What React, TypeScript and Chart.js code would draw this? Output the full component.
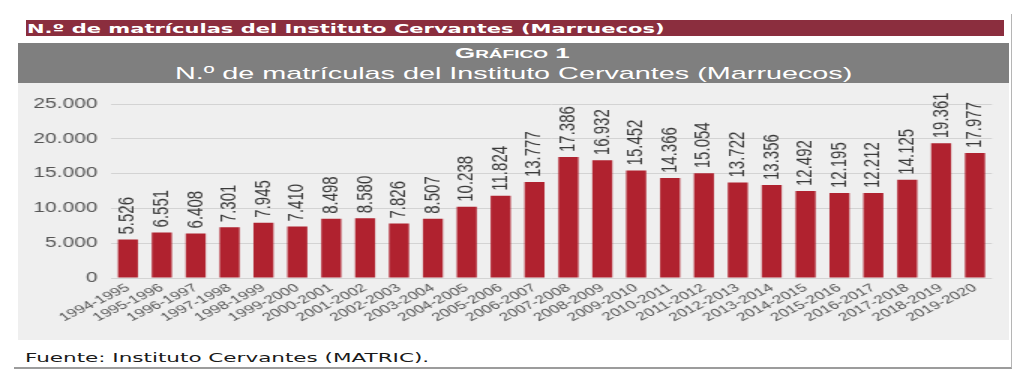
import React, { useEffect, useLayoutEffect, useRef } from 'react';
import { Chart, registerables } from 'chart.js';

Chart.register(...registerables);

// ---- data ----
const categories = [
  '1994-1995', '1995-1996', '1996-1997', '1997-1998', '1998-1999', '1999-2000',
  '2000-2001', '2001-2002', '2002-2003', '2003-2004', '2004-2005', '2005-2006',
  '2006-2007', '2007-2008', '2008-2009', '2009-2010', '2010-2011', '2011-2012',
  '2012-2013', '2013-2014', '2014-2015', '2015-2016', '2016-2017', '2017-2018',
  '2018-2019', '2019-2020',
];
const enrolments = [
  5526, 6551, 6408, 7301, 7945, 7410, 8498, 8580, 7826, 8507, 10238, 11824,
  13777, 17386, 16932, 15452, 14366, 15054, 13722, 13356, 12492, 12195, 12212,
  14125, 19361, 17977,
];
const yTickValues = [0, 5000, 10000, 15000, 20000, 25000];
const bannerText = 'N.º de matrículas del Instituto Cervantes (Marruecos)';
const kickerText = 'Gráfico 1';
const titleText = 'N.º de matrículas del Instituto Cervantes (Marruecos)';
const sourceText = 'Fuente: Instituto Cervantes (MATRIC).';

const fmt = (v: number) => String(Math.round(v)).replace(/\B(?=(\d{3})+(?!\d))/g, '.');

const STRETCH = 1.5;

type FitProps = {
  text: string;
  left: number;
  top: number;
  width: number;
  height: number;
  style: React.CSSProperties;
};

function FitText({ text, left, top, width, height, style }: FitProps) {
  const ref = useRef<HTMLSpanElement>(null);
  useLayoutEffect(() => {
    const el = ref.current;
    if (!el) return;
    const w = el.offsetWidth;
    if (w > 0) el.style.transform = `scaleX(${width / w})`;
  }, [text, width]);
  return (
    <div
      style={{
        position: 'absolute',
        left,
        top,
        height,
        lineHeight: `${height}px`,
        whiteSpace: 'nowrap',
      }}
    >
      <span ref={ref} style={{ display: 'inline-block', transformOrigin: 'left center', ...style }}>
        {text}
      </span>
    </div>
  );
}

const valueLabels = {
  id: 'valueLabels',
  afterDatasetsDraw(chart: any) {
    const ctx = chart.ctx as CanvasRenderingContext2D;
    const meta = chart.getDatasetMeta(0);
    const values = chart.data.datasets[0].data as number[];
    ctx.save();
    ctx.fillStyle = '#3a3a3a';
    ctx.font = '15px "Liberation Sans Narrow", "Arial Narrow", "Liberation Sans", sans-serif';
    ctx.textAlign = 'left';
    ctx.textBaseline = 'middle';
    meta.data.forEach((bar: any, i: number) => {
      ctx.save();
      ctx.translate(bar.x, bar.y - 5);
      ctx.rotate(-Math.PI / 2);
      ctx.fillText(fmt(values[i]), 0, 0);
      ctx.restore();
    });
    ctx.restore();
  },
};

function BarChart() {
  const canvasRef = useRef<HTMLCanvasElement>(null);
  useEffect(() => {
    const canvas = canvasRef.current;
    if (!canvas) return;
    const chart = new Chart(canvas, {
      type: 'bar',
      data: {
        labels: categories,
        datasets: [
          {
            data: enrolments,
            backgroundColor: '#b0222f',
            barPercentage: 0.59,
            categoryPercentage: 1,
          },
        ],
      },
      options: {
        animation: false,
        responsive: false,
        events: [],
        layout: { padding: { top: 21, right: 10.7, left: 0, bottom: 0 } },
        plugins: { legend: { display: false }, tooltip: { enabled: false } },
        scales: {
          x: {
            grid: { display: false, drawTicks: false },
            border: { display: false },
            ticks: {
              autoSkip: false,
              maxRotation: 36,
              minRotation: 36,
              padding: 3,
              color: '#555555',
              font: { family: '"Liberation Sans", Arial, sans-serif', size: 11.5 },
            },
            afterFit: (s: any) => {
              s.height = 62;
            },
          },
          y: {
            min: 0,
            max: 25000,
            afterBuildTicks: (s: any) => {
              s.ticks = yTickValues.map((v) => ({ value: v }));
            },
            ticks: {
              padding: 9,
              color: '#555555',
              font: { family: '"Liberation Sans", Arial, sans-serif', size: 14 },
              callback: (v: any) => fmt(Number(v)),
            },
            grid: { color: '#d3d3d3', drawTicks: false, lineWidth: 1 },
            border: { display: false },
            afterFit: (s: any) => {
              s.width = 62;
            },
          },
        },
      },
      plugins: [valueLabels],
    } as any);
    return () => chart.destroy();
  }, []);
  return (
    <div
      style={{
        position: 'absolute',
        left: 18,
        top: 83,
        width: 660,
        height: 257,
        transform: `scaleX(${STRETCH})`,
        transformOrigin: 'left top',
      }}
    >
      <canvas ref={canvasRef} width={660} height={257} />
    </div>
  );
}

export default function App() {
  return (
    <div
      style={{
        position: 'absolute',
        left: 0,
        top: 0,
        width: 1024,
        height: 374,
        background: '#ffffff',
        overflow: 'hidden',
      }}
    >
      {/* frame */}
      <div
        style={{
          position: 'absolute',
          left: 14,
          top: 14,
          width: 997,
          height: 353,
          borderRight: '1px solid #b5b5b5',
          borderBottom: '2px solid #9c9c9c',
        }}
      />
      {/* banner */}
      <div style={{ position: 'absolute', left: 26, top: 20, width: 978, height: 16, background: '#8b2e3e' }} />
      <FitText
        text={bannerText}
        left={27}
        top={20}
        width={637}
        height={16}
        style={{ color: '#ffffff', fontFamily: '"DejaVu Sans", Verdana, sans-serif', fontWeight: 'bold', fontSize: 13 }}
      />
      {/* header */}
      <div style={{ position: 'absolute', left: 18, top: 43, width: 991, height: 40, background: '#7f7f7f' }} />
      <FitText
        text={kickerText}
        left={455}
        top={45}
        width={114}
        height={16}
        style={{
          color: '#ffffff',
          fontFamily: '"Liberation Sans", Arial, sans-serif',
          fontWeight: 'bold',
          fontSize: 15,
          fontVariant: 'small-caps',
        }}
      />
      <FitText
        text={titleText}
        left={175}
        top={64}
        width={677}
        height={20}
        style={{ color: '#ffffff', fontFamily: '"Liberation Sans", Arial, sans-serif', fontSize: 17 }}
      />
      {/* chart area */}
      <div style={{ position: 'absolute', left: 18, top: 83, width: 991, height: 257, background: '#efefef' }} />
      <BarChart />
      {/* source */}
      <FitText
        text={sourceText}
        left={25}
        top={349}
        width={405}
        height={16}
        style={{ color: '#1a1a1a', fontFamily: '"DejaVu Sans", Verdana, sans-serif', fontSize: 13 }}
      />
    </div>
  );
}
